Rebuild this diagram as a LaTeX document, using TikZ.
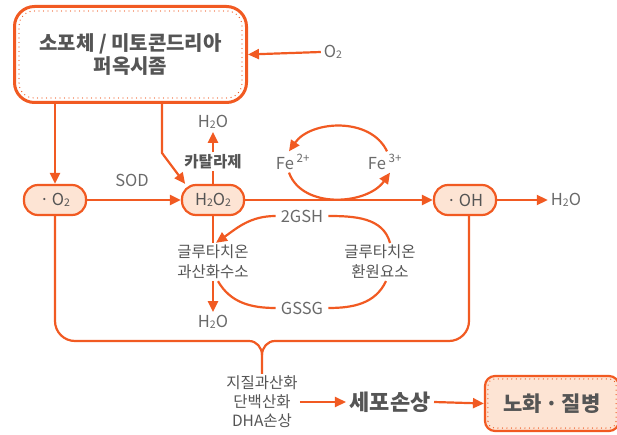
\documentclass[tikz,border=0pt]{standalone}
\usepackage{fontspec}
\setmainfont{Noto Sans CJK KR}
\usetikzlibrary{positioning, calc, arrows.meta}
\definecolor{Orange}{HTML}{F15A22}
\definecolor{Peach}{HTML}{FDE4D4}
\definecolor{Ink}{HTML}{555555}
\definecolor{Soft}{HTML}{6A6A6A}
\newcommand{\lowidx}[1]{\raisebox{-1pt}{\fontsize{10.5}{10.5}\selectfont#1}}
\tikzstyle{Arrow} = [line width=2.2pt, draw=Orange,
-{Triangle[length=11pt,width=10pt]}]
\tikzstyle{Line} = [line width=2.2pt, draw=Orange]
\tikzstyle{Dots} = [draw=Orange, line width=1.3pt,
dash pattern=on 0pt off 4.5pt, line cap=round]
\tikzstyle{Pill} = [draw=Orange, line width=2.2pt, fill=Peach,
rounded corners=14pt, minimum width=62pt, minimum height=30pt,
text=Ink, font=\fontsize{16.5}{16.5}\selectfont]
\tikzstyle{Chem} = [text=Soft, font=\fontsize{16.5}{16.5}\selectfont, inner sep=3pt]
\tikzstyle{Enzyme} = [text=Ink, font=\fontsize{15.5}{20}\selectfont,
align=center, inner sep=2pt]

\begin{document}
\begin{tikzpicture}[x=1pt, y=1pt]
    \useasboundingbox (0,0) rectangle (617,434);

    \node [draw=Orange, line width=3pt, fill=white, rounded corners=20pt,
        minimum width=232pt, minimum height=96pt, align=center, text=Ink,
        font=\bfseries\fontsize{20}{23}\selectfont] (1) at (130.5,379.5)
        {소포체 / 미토콘드리아\\퍼옥시좀};
    \node [Chem] (2) at (333,382) {O\lowidx{2}};
    \node [Pill] (3) at (55,234) {·\,O\lowidx{2}};
    \node [Pill] (4) at (213,234) {H\lowidx{2}O\lowidx{2}};
    \node [Pill] (5) at (465,234) {·\,OH};
    \node [Chem] (6) at (132,254) {SOD};
    \node [Chem] (7) at (213,312) {H\lowidx{2}O};
    \node [Enzyme, font=\bfseries\fontsize{15.5}{20}\selectfont] (8) at (213,272) {카탈라제};
    \node [Chem] (9) at (293,272) {Fe\,\textsuperscript{2+}};
    \node [Chem] (10) at (385,272) {Fe\,\textsuperscript{3+}};
    \node [Chem] (11) at (566,234) {H\lowidx{2}O};
    \node [Enzyme] (12) at (213,172) {글루타치온\\과산화수소};
    \node [Enzyme] (13) at (380,172) {글루타치온\\환원요소};
    \node [Chem, inner sep=5pt] (14) at (302,218) {2GSH};
    \node [Chem, inner sep=5pt] (15) at (302,126) {GSSG};
    \node [Chem] (16) at (213,112) {H\lowidx{2}O};
    \node [Enzyme, font=\fontsize{15.5}{19}\selectfont] (17) at (262,32) {지질과산화\\단백산화\\DHA손상};
    \node [text=Ink, font=\bfseries\fontsize{22}{22}\selectfont] (18) at (390,32) {세포손상};
    \node [draw=Orange, line width=2.2pt, fill=Peach, rounded corners=10pt,
        minimum width=134pt, minimum height=55pt, text=Ink,
        font=\bfseries\fontsize{21}{21}\selectfont] (19) at (552,30.5) {노화\,·\,질병};

    % dotted inner borders
    \draw[Dots, rounded corners=15pt] ([shift={(6pt,6pt)}]1.south west)
        rectangle ([shift={(-6pt,-6pt)}]1.north east);
    \draw[Dots, rounded corners=7pt] ([shift={(4pt,4pt)}]19.south west)
        rectangle ([shift={(-4pt,-4pt)}]19.north east);

    \draw[Arrow] (2.west)--(1.east);
    \draw[Arrow] (1.south -| 3.north)--(3.north);
    \draw[Arrow] ([xshift=31.5pt]1.south) -- ++(0,-49) -- (4.150);
    \draw[Arrow] (3.east)--(4.west);
    \draw[Arrow] (4.east)--(5.west);
    \draw[Arrow] (5.east)--(11.west);
    \draw[Line] (4.north)--(8.south);
    \draw[Arrow] (8.north)--(7.south);
    \draw[Arrow] ([xshift=2pt]10.north) to [out=115, in=55] ([xshift=-4pt]9.north);
    \draw[Arrow] ([xshift=-4pt]9.south) to [out=-70, in=-125] ([xshift=5pt]10.south);
    \draw[Line] (4.south)--(12.north);
    \draw[Arrow] (12.south)--(16.north);
    \draw[Line] ([xshift=10pt]13.north) to [out=105, in=0] (14.east);
    \draw[Arrow] (14.west) to [out=180, in=35] ([xshift=3pt]12.north);
    \draw[Line] ([xshift=5pt]12.south) to [out=-60, in=180] (15.west);
    \draw[Line] (15.east) to [out=0, in=-115] ([xshift=6pt]13.south);

    % brace into damage list
    \draw[Line] (3.south) -- (55,113) to [out=-90, in=180] (75,93) -- (249,93)
        to [out=0, in=90] (262,79) -- (17.north);
    \draw[Line] ([xshift=4pt]5.south) -- (469,113) to [out=-90, in=0] (449,93) -- (275,93)
        to [out=180, in=90] (262,79);

    \draw[Arrow] (17.east)--(18.west);
    \draw[Arrow] (18.east)--(19.west);
\end{tikzpicture}
\end{document}
